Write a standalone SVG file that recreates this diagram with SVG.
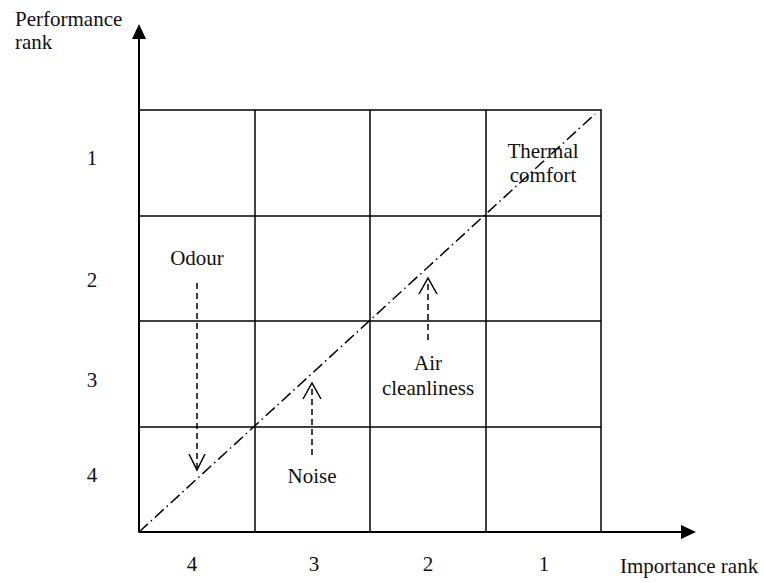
<svg xmlns="http://www.w3.org/2000/svg" width="764" height="583" viewBox="0 0 764 583">
<defs>
<style>
text{font-family:"Liberation Serif","Times New Roman",serif;font-size:21px;fill:#111;}
.c{text-anchor:middle;}
.grid{stroke:#000;stroke-width:1.5;fill:none;}
.axis{stroke:#000;stroke-width:2;fill:none;}
.diag{stroke:#000;stroke-width:1.5;stroke-dasharray:12 4 1.5 4;fill:none;}
.dash{stroke:#000;stroke-width:1.5;stroke-dasharray:6 4;fill:none;}
.head{stroke:#000;stroke-width:1.5;fill:none;}
</style>
</defs>
<rect width="764" height="583" fill="#fff"/>
<g id="grid">
<rect class="grid" x="139" y="110" width="462" height="422"/>
<line class="grid" x1="255" y1="110" x2="255" y2="532"/>
<line class="grid" x1="370" y1="110" x2="370" y2="532"/>
<line class="grid" x1="486" y1="110" x2="486" y2="532"/>
<line class="grid" x1="139" y1="216" x2="601" y2="216"/>
<line class="grid" x1="139" y1="321" x2="601" y2="321"/>
<line class="grid" x1="139" y1="427" x2="601" y2="427"/>
</g>
<g id="axes">
<line class="axis" x1="139" y1="532" x2="139" y2="38"/>
<polygon points="139,24 132,39 146,39" fill="#000"/>
<line class="axis" x1="139" y1="532" x2="682" y2="532"/>
<polygon points="696,532 681,525 681,539" fill="#000"/>
</g>
<g id="labels">
<text x="15" y="26">Performance</text>
<text x="15" y="49">rank</text>
<text x="620" y="573">Importance rank</text>
<text class="c" x="192" y="571">4</text>
<text class="c" x="314" y="571">3</text>
<text class="c" x="428" y="571">2</text>
<text class="c" x="544" y="571">1</text>
<text class="c" x="92" y="165">1</text>
<text class="c" x="92" y="287">2</text>
<text class="c" x="92" y="387">3</text>
<text class="c" x="92" y="482">4</text>
</g>
<g id="connectors">
<line class="diag" x1="139" y1="532" x2="595" y2="114"/>
<line class="dash" x1="197" y1="283" x2="197" y2="468"/>
<polyline class="head" points="189,454 197,470 205,454"/>
<line class="dash" x1="312" y1="455" x2="312" y2="385"/>
<polyline class="head" points="303,399 312,383 321,399"/>
<line class="dash" x1="428" y1="340" x2="428" y2="280"/>
<polyline class="head" points="419,294 428,278 437,294"/>
</g>
<g id="node-thermal"><text class="c" x="543" y="158">Thermal</text><text class="c" x="543" y="182">comfort</text></g>
<g id="node-odour"><text class="c" x="197" y="265">Odour</text></g>
<g id="node-noise"><text class="c" x="312" y="483">Noise</text></g>
<g id="node-air"><text class="c" x="428" y="370">Air</text><text class="c" x="428" y="395">cleanliness</text></g>
</svg>
